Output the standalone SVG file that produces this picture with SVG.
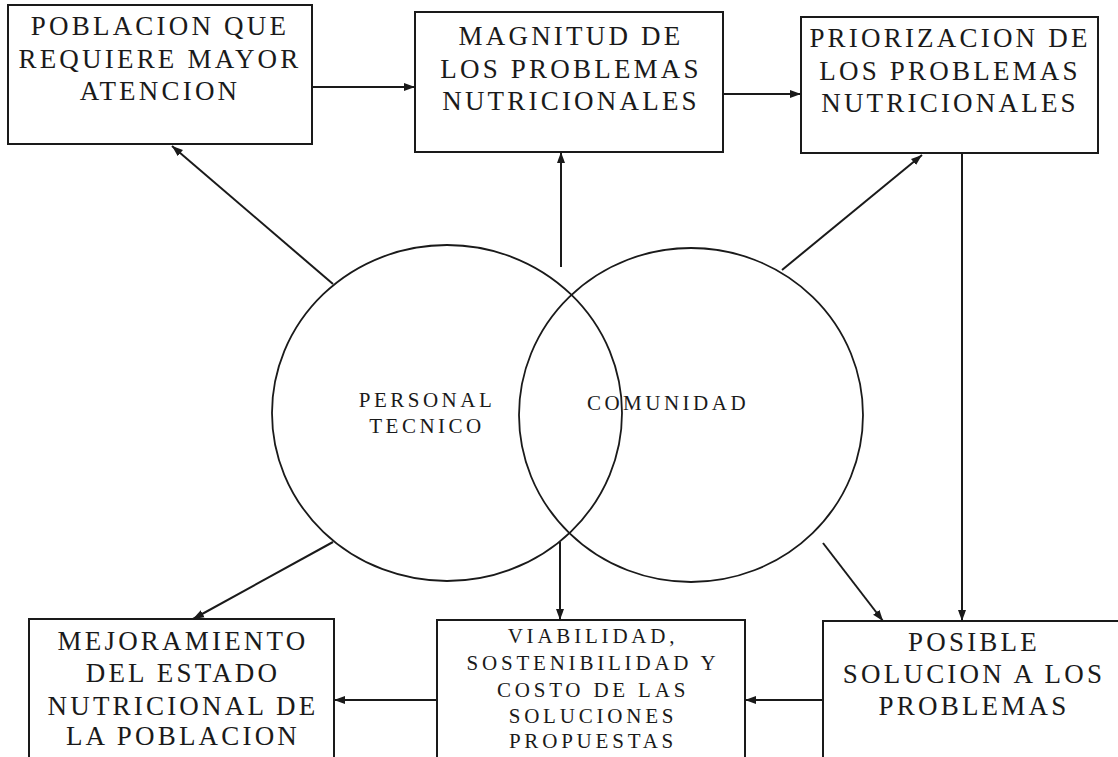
<svg xmlns="http://www.w3.org/2000/svg" width="1118" height="757" viewBox="0 0 1118 757">
<style>
.box{fill:#fff;stroke:#1a1a1a;stroke-width:2}
.circ{fill:none;stroke:#1a1a1a;stroke-width:1.8}
.con{stroke:#1a1a1a;stroke-width:2;fill:none;marker-end:url(#ah)}
.t{font-family:"Liberation Serif","Times New Roman",serif;font-size:27px;letter-spacing:3.2px;fill:#1a1a1a;text-anchor:middle}
.s{font-size:21px;letter-spacing:3.8px}
.c{font-family:"Liberation Serif","Times New Roman",serif;font-size:21px;letter-spacing:3.5px;fill:#1a1a1a;text-anchor:middle}
</style>
<defs>
<marker id="ah" markerUnits="userSpaceOnUse" markerWidth="12" markerHeight="10" viewBox="0 0 12 10" refX="11" refY="5" orient="auto">
<path d="M0,1 L11,5 L0,9 Z" fill="#1a1a1a"/>
</marker>
</defs>
<rect width="1118" height="757" fill="#fff"/>
<g id="circle-personal">
<ellipse class="circ" cx="447" cy="413" rx="175" ry="168"/>
<text class="c" x="427" y="407">PERSONAL</text>
<text class="c" x="427" y="433">TECNICO</text>
</g>
<g id="circle-comunidad">
<ellipse class="circ" cx="691" cy="415" rx="172" ry="167"/>
<text class="c" x="668" y="410">COMUNIDAD</text>
</g>
<g id="node-poblacion">
<rect class="box" x="8" y="5" width="304" height="139"/>
<text class="t" x="160" y="35">POBLACION QUE</text>
<text class="t" x="160" y="68">REQUIERE MAYOR</text>
<text class="t" x="160" y="100">ATENCION</text>
</g>
<g id="node-magnitud">
<rect class="box" x="415" y="12" width="308" height="140"/>
<text class="t" x="571" y="45">MAGNITUD DE</text>
<text class="t" x="571" y="78">LOS PROBLEMAS</text>
<text class="t" x="571" y="110">NUTRICIONALES</text>
</g>
<g id="node-priorizacion">
<rect class="box" x="801" y="17" width="297" height="136"/>
<text class="t" x="950" y="47">PRIORIZACION DE</text>
<text class="t" x="950" y="80">LOS PROBLEMAS</text>
<text class="t" x="950" y="112">NUTRICIONALES</text>
</g>
<g id="node-mejoramiento">
<rect class="box" x="29" y="619" width="305" height="150"/>
<text class="t" x="183" y="650">MEJORAMIENTO</text>
<text class="t" x="183" y="682">DEL ESTADO</text>
<text class="t" x="183" y="715">NUTRICIONAL DE</text>
<text class="t" x="183" y="745">LA POBLACION</text>
</g>
<g id="node-viabilidad">
<rect class="box" x="437" y="620" width="308" height="150"/>
<text class="t s" x="593" y="643">VIABILIDAD,</text>
<text class="t s" x="593" y="670">SOSTENIBILIDAD Y</text>
<text class="t s" x="593" y="697">COSTO DE LAS</text>
<text class="t s" x="593" y="723">SOLUCIONES</text>
<text class="t s" x="593" y="748">PROPUESTAS</text>
</g>
<g id="node-posible">
<rect class="box" x="823" y="621" width="302" height="150"/>
<text class="t" x="974" y="651">POSIBLE</text>
<text class="t" x="974" y="683">SOLUCION A LOS</text>
<text class="t" x="974" y="715">PROBLEMAS</text>
</g>
<g id="connectors">
<line class="con" x1="312" y1="87" x2="415" y2="87"/>
<line class="con" x1="723" y1="94" x2="801" y2="94"/>
<line class="con" x1="333" y1="284" x2="172" y2="146"/>
<line class="con" x1="561" y1="267" x2="561" y2="152"/>
<line class="con" x1="782" y1="270" x2="922" y2="155"/>
<line class="con" x1="962" y1="153" x2="962" y2="621"/>
<line class="con" x1="333" y1="542" x2="193" y2="619"/>
<line class="con" x1="560" y1="542" x2="560" y2="620"/>
<line class="con" x1="823" y1="543" x2="883" y2="621"/>
<line class="con" x1="823" y1="700" x2="745" y2="700"/>
<line class="con" x1="437" y1="700" x2="334" y2="700"/>
</g>
</svg>
